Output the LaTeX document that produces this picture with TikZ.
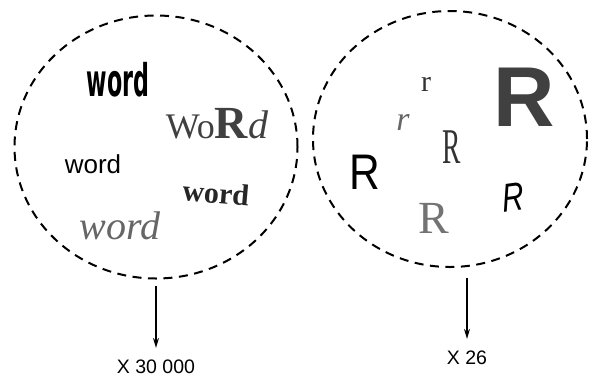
\documentclass[tikz,border=0pt]{standalone}
\usepackage{fontspec}
\setmainfont{Liberation Serif}
\setsansfont{Liberation Sans}
\newfontfamily\heavyfont{DejaVu Sans}
\usetikzlibrary{positioning, arrows.meta, shapes.geometric}
\newcommand{\fsz}[1]{\fontsize{#1}{#1}\selectfont}

\begin{document}
\begin{tikzpicture}[x=1pt, y=-1pt,
  every node/.style={inner sep=0pt},
  set/.style={ellipse, draw, line width=2pt, dash pattern=on 9pt off 6.5pt},
  count/.style={font=\sffamily\fsz{19.5}},
  arr/.style={-{Stealth[length=10pt, width=6pt]}, line width=1.3pt},
]
  \useasboundingbox (0,0) rectangle (593,383);

  % Sets
  \node[set, minimum width=283pt, minimum height=263pt] (wordset) at (156,147) {};
  \node[set, minimum width=274pt, minimum height=256pt] (letterset) at (450,139) {};

  % Words
  \node[font=\heavyfont\bfseries\fsz{30}, xscale=0.74, yscale=1.5] (w1) at (118,80) {word};
  \node[black!75] (w2) at (217,124) {{\fsz{36}Wo}{\fsz{46}\bfseries R}{\fsz{40}\itshape d}};
  \node[font=\sffamily\fsz{26}] (w3) at (93,164) {word};
  \node[font=\bfseries\fsz{30}, black!85, rotate=-5] (w4) at (216,193) {word};
  \node[font=\itshape\fsz{40}, black!60] (w5) at (120,226) {word};

  % Letters
  \node[font=\fsz{30}, black!80] (r1) at (426,84) {r};
  \node[font=\itshape\fsz{34}, black!60] (r2) at (403,122) {r};
  \node[font=\fsz{50}, black!80, xscale=0.55] (r3) at (452,147) {R};
  \node[font=\sffamily\fsz{50}, xscale=0.85] (r4) at (365,172) {R};
  \node[font=\sffamily\bfseries\fsz{85}, black!75] (r5) at (524,97) {R};
  \node[font=\fsz{46}, black!55] (r6) at (434,218) {R};
  \node[font=\sffamily\itshape\fsz{40}, xscale=0.75, rotate=6] (r7) at (513,197) {R};

  % Counts
  \node[count] (wordcount) at (156,367) {X 30 000};
  \node[count] (lettercount) at (467,358) {X 26};

  % Arrows
  \draw[arr] (wordset.south -| wordcount.north) ++(0,6) -- ([yshift=12pt]wordcount.north);
  \draw[arr] (letterset.south -| lettercount.north) ++(0,10) -- ([yshift=12pt]lettercount.north);
\end{tikzpicture}
\end{document}
